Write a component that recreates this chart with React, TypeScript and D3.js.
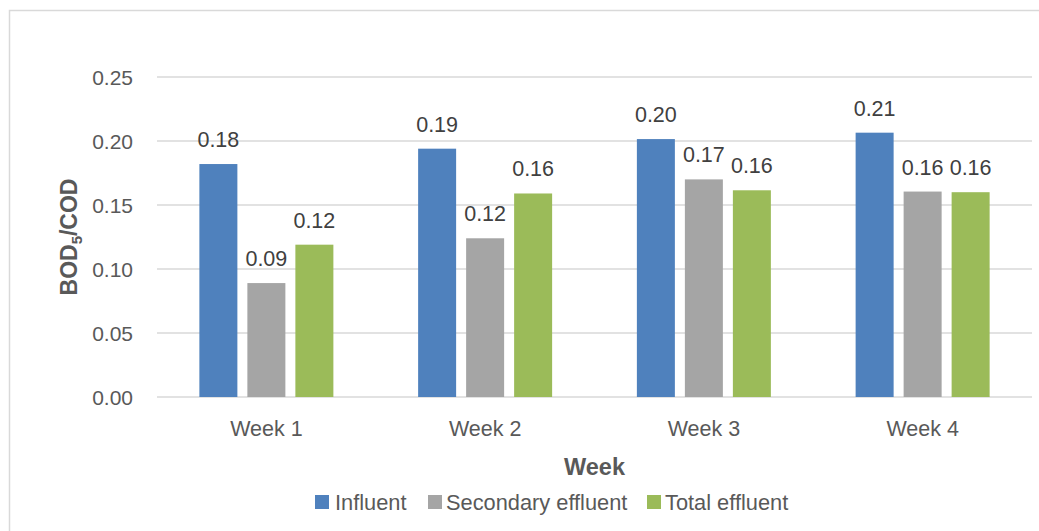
import React from "react";
import * as d3 from "d3";

const categories = ["Week 1", "Week 2", "Week 3", "Week 4"];
const seriesNames = ["Influent", "Secondary effluent", "Total effluent"];
const influent = [0.182, 0.194, 0.2015, 0.2065];
const secondaryEffluent = [0.089, 0.124, 0.170, 0.1605];
const totalEffluent = [0.119, 0.159, 0.1615, 0.160];
const yTicks = [0, 0.05, 0.1, 0.15, 0.2, 0.25];
const colors = ["#4F81BD", "#A5A5A5", "#9BBB59"];

const W = 1039;
const H = 531;
const plotLeft = 157;
const plotRight = 1032;
const plotTop = 77;
const plotBottom = 397;
const FONT = "'Liberation Sans', Arial, sans-serif";
const TEXT = "#595959";

export default function App() {
  const seriesValues = [influent, secondaryEffluent, totalEffluent];
  const x0 = d3.scaleBand<string>().domain(categories).range([plotLeft, plotRight]).padding(0);
  const groupW = 134;
  const x1 = d3
    .scaleBand<string>()
    .domain(seriesNames)
    .range([0, groupW])
    .paddingInner(10 / 48)
    .paddingOuter(0);
  const y = d3.scaleLinear().domain([0, 0.25]).range([plotBottom, plotTop]);
  const offset = (x0.bandwidth() - groupW) / 2;

  const legendItems = [
    { name: seriesNames[0], sx: 315, tx: 335 },
    { name: seriesNames[1], sx: 428, tx: 446 },
    { name: seriesNames[2], sx: 647, tx: 665 },
  ];

  return (
    <svg
      width={W}
      height={H}
      style={{ position: "absolute", left: 0, top: 0, background: "#fff" }}
      fontFamily={FONT}
    >
      <rect x={9.5} y={10.5} width={W + 20} height={H + 20} fill="#fff" stroke="#D9D9D9" strokeWidth={1.5} />
      {yTicks.map((t) => (
        <g key={t}>
          <line x1={plotLeft} x2={plotRight} y1={y(t)} y2={y(t)} stroke="#D9D9D9" strokeWidth={1.5} />
          <text x={133} y={y(t)} dy="0.36em" textAnchor="end" fontSize={21} fill={TEXT}>
            {t.toFixed(2)}
          </text>
        </g>
      ))}
      {categories.map((c, ci) => (
        <g key={c}>
          {seriesNames.map((s, si) => {
            const v = seriesValues[si][ci];
            const bx = (x0(c) as number) + offset + (x1(s) as number);
            return (
              <g key={s}>
                <rect
                  x={bx}
                  y={y(v)}
                  width={x1.bandwidth()}
                  height={plotBottom - y(v)}
                  fill={colors[si]}
                />
                <text
                  x={bx + x1.bandwidth() / 2}
                  y={y(v) - 17}
                  textAnchor="middle"
                  fontSize={21.5}
                  fill="#404040"
                >
                  {v.toFixed(2)}
                </text>
              </g>
            );
          })}
          <text
            x={(x0(c) as number) + x0.bandwidth() / 2}
            y={436}
            textAnchor="middle"
            fontSize={21.5}
            fill={TEXT}
          >
            {c}
          </text>
        </g>
      ))}
      <text
        transform={`translate(77, ${(plotTop + plotBottom) / 2}) rotate(-90)`}
        textAnchor="middle"
        fontSize={23}
        fontWeight="bold"
        fill={TEXT}
      >
        BOD<tspan fontSize={15} dy={5}>5</tspan>
        <tspan dy={-5}>/COD</tspan>
      </text>
      <text x={(plotLeft + plotRight) / 2} y={475} textAnchor="middle" fontSize={23.5} fontWeight="bold" fill={TEXT}>
        Week
      </text>
      {legendItems.map((l, i) => (
        <g key={l.name}>
          <rect x={l.sx} y={495} width={14} height={14} fill={colors[i]} />
          <text x={l.tx} y={502} dy="0.36em" fontSize={21.8} fill={TEXT}>
            {l.name}
          </text>
        </g>
      ))}
    </svg>
  );
}
